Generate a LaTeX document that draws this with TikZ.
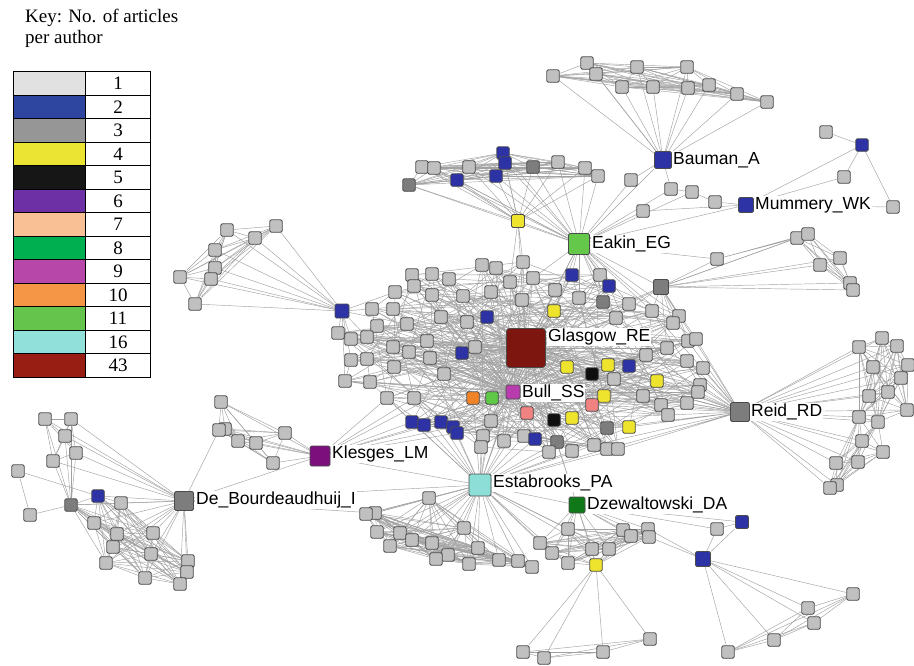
\documentclass[tikz,border=0pt]{standalone}
\usepackage{fontspec}
\newfontfamily\labfont{Liberation Sans}
\newfontfamily\keyfont{Liberation Serif}
\pgfdeclarelayer{bg}
\pgfsetlayers{bg,main}
\definecolor{cg}{RGB}{192,192,192}
\definecolor{cd}{RGB}{125,125,125}
\definecolor{cb}{RGB}{45,50,165}
\definecolor{cy}{RGB}{238,228,45}
\definecolor{ck}{RGB}{15,15,15}
\definecolor{cp}{RGB}{240,130,130}
\definecolor{cor}{RGB}{240,130,40}
\definecolor{cgr}{RGB}{95,200,70}
\definecolor{cred}{RGB}{125,22,15}
\definecolor{cmag}{RGB}{185,60,175}
\definecolor{clg}{RGB}{100,200,75}
\definecolor{cpur}{RGB}{125,15,125}
\definecolor{ccy}{RGB}{140,222,214}
\definecolor{cdg}{RGB}{15,120,25}
\definecolor{cedge}{RGB}{162,162,162}
\definecolor{cline}{RGB}{75,75,75}
\definecolor{k1}{RGB}{225,225,225}
\definecolor{k2}{RGB}{46,70,160}
\definecolor{k3}{RGB}{150,150,150}
\definecolor{k4}{RGB}{236,228,50}
\definecolor{k5}{RGB}{22,22,22}
\definecolor{k6}{RGB}{110,48,165}
\definecolor{k7}{RGB}{248,192,148}
\definecolor{k8}{RGB}{0,176,80}
\definecolor{k9}{RGB}{183,72,170}
\definecolor{k10}{RGB}{245,150,70}
\definecolor{k11}{RGB}{100,196,76}
\definecolor{k16}{RGB}{145,225,218}
\definecolor{k43}{RGB}{152,30,20}
\newcommand\mkstar[4]{\foreach \i in {#3,...,#4}{\draw[ed] (#1)--(#2\i);}}
\newcommand\mkclique[3]{\pgfmathtruncatemacro\cqlast{#3-1}\foreach \i in {#2,...,\cqlast}{\pgfmathtruncatemacro\cqnext{\i+1}\foreach \j in {\cqnext,...,#3}{\draw[ed] (#1\i)--(#1\j);}}}
\tikzset{
  nd/.style={draw=cline, line width=0.9pt, rounded corners=1.5pt, minimum size=12.5pt, inner sep=0pt},
  ed/.style={draw=cedge, line width=0.45pt},
  lab/.style={font=\labfont\fontsize{17.5}{21}\selectfont, fill=white, inner sep=1pt, anchor=west},
  keycell/.style={draw=black, line width=1pt, minimum width=72pt, minimum height=23.54pt, anchor=north west, inner sep=0pt},
  keynum/.style={draw=black, line width=1pt, minimum width=65pt, minimum height=23.54pt, anchor=north west, inner sep=0pt, font=\keyfont\fontsize{19}{21}\selectfont},
}
\begin{document}
\begin{tikzpicture}[x=1pt,y=-1pt]
\useasboundingbox (0,0) rectangle (914,665);
% key
\node[anchor=base west, inner sep=0pt, font=\keyfont\fontsize{19}{21}\selectfont] (key1) at (25,22) {Key: No. of articles};
\node[anchor=base west, inner sep=0pt, font=\keyfont\fontsize{19}{21}\selectfont] (key2) at (25,43) {per author};
\foreach \r/\c/\t in {0/k1/1,1/k2/2,2/k3/3,3/k4/4,4/k5/5,5/k6/6,6/k7/7,7/k8/8,8/k9/9,9/k10/10,10/k11/11,11/k16/16,12/k43/43}{
  \pgfmathsetmacro\yt{71+\r*23.54}
  \node[keycell, fill=\c] (kc\r) at (13,\yt) {};
  \node[keynum] (kn\r) at (85,\yt) {\t};
}
% labels
\node[lab] (LG) at (547,337) {Glasgow\_RE};
\node[lab] (LS) at (521,393) {Bull\_SS};
\node[lab] (LEa) at (591,244) {Eakin\_EG};
\node[lab] (LBa) at (672,160) {Bauman\_A};
\node[lab] (LMu) at (754,205) {Mummery\_WK};
\node[lab] (LRe) at (750,412) {Reid\_RD};
\node[lab] (LKl) at (331,454) {Klesges\_LM};
\node[lab] (LDe) at (195,500) {De\_Bourdeaudhuij\_I};
\node[lab] (LEs) at (492,483) {Estabrooks\_PA};
\node[lab] (LDz) at (586,505) {Dzewaltowski\_DA};
% hubs
\node[nd, fill=cred, minimum size=39pt, rounded corners=3pt] (G) at (526,348) {};
\node[nd, fill=cmag, minimum size=14pt] (S) at (513,392) {};
\node[nd, fill=clg, minimum size=21pt] (Ea) at (579,244) {};
\node[nd, fill=cb, minimum size=17pt] (Ba) at (663,160) {};
\node[nd, fill=cb, minimum size=15pt] (Mu) at (746,205) {};
\node[nd, fill=cd, minimum size=19pt] (Re) at (740,412) {};
\node[nd, fill=cpur, minimum size=20pt] (Kl) at (320,456) {};
\node[nd, fill=cd, minimum size=19pt] (De) at (184,501) {};
\node[nd, fill=ccy, minimum size=22pt] (Es) at (480,485) {};
\node[nd, fill=cdg, minimum size=16pt] (Dz) at (577,505) {};
\node[nd, fill=cd, minimum size=15pt] (d1) at (661,287) {};
\node[nd, fill=cb, minimum size=14pt] (ub) at (342,311) {};
\node[nd, fill=cy, minimum size=13pt] (y1) at (518,221) {};
\node[nd, fill=cb, minimum size=15pt] (p2) at (703,559) {};
\node[nd, fill=cb, minimum size=13pt] (p1) at (742,522) {};
\node[nd, fill=cg] (t0) at (717,529) {};
\node[nd, fill=cg] (m6) at (717,259) {};
% clusters
\foreach \n/\f/\x/\y in {b1/cg/553/76,b2/cg/587/63,b3/cg/596/74,b4/cg/622/87,b5/cg/637/67,b6/cg/653/87,b7/cg/687/67,b8/cg/688/88,b9/cg/709/85,b10/cg/737/94,b11/cg/767/102,
 e1/cg/422/167,e2/cg/434/168,e3/cg/469/167,e4/cb/503/153,e5/cb/505/163,e6/cb/457/180,e7/cb/496/176,e8/cd/533/167,e9/cd/409/185,e10/cg/558/162,e11/cg/585/168,e12/cg/598/176,
 m1/cg/631/180,m2/cg/671/189,m3/cg/692/192,m4/cg/715/202,m5/cg/643/211,
 n1/cg/826/132,n2/cb/862/145,n3/cg/844/177,n4/cg/893/207,
 r1/cg/797/238,r2/cg/808/234,r3/cg/840/258,r4/cg/820/265,r5/cg/850/283,r6/cg/853/290,
 u1/cg/227/230,u2/cg/255/238,u3/cg/276/226,u4/cg/215/250,u5/cg/215/268,u6/cg/211/279,u7/cg/180/277,u8/cg/195/304,
 k1/cg/221/402,k2/cg/225/429,k3/cg/219/430,k4/cg/238/441,k5/cg/256/443,k6/cg/285/433,k7/cg/273/463,
 z1/cg/523/652,z2/cg/544/658,z3/cg/603/652,z4/cg/650/639,
 t1/cg/853/594,t2/cg/808/608,t3/cg/814/623,t4/cg/774/640,t5/cg/728/652}
 {\node[nd, fill=\f] (\n) at (\x,\y) {};}
\foreach \n/\f/\x/\y in {l1/cg/45/419,l2/cg/71/419,l3/cg/65/436,l4/cg/76/453,l5/cg/53/461,l6/cg/18/471,l7/cb/98/496,l8/cd/71/505,l9/cg/30/515,l10/cg/121/503,l11/cg/94/523,l12/cg/117/534,l13/cg/153/533,l14/cg/113/547,l15/cg/151/554,l16/cg/106/563,l17/cg/188/561,l18/cg/187/572,l19/cg/145/578,l20/cg/180/584,
 q1/cg/859/347,q2/cg/882/338,q3/cg/897/346,q4/cg/908/365,q5/cg/873/367,q6/cg/901/378,q7/cg/888/392,q8/cg/869/396,q9/cg/907/410,q10/cg/859/417,q11/cg/878/422,q12/cg/862/441,q13/cg/883/452,q14/cg/858/462,q15/cg/836/463,q16/cg/837/485,q17/cg/830/488,
 s1/cg/429/498,s2/cg/375/513,s3/cg/366/514,s4/cg/377/532,s5/cg/400/533,s6/cg/412/540,s7/cg/390/546,s8/cg/432/543,s9/cg/448/555,s10/cg/436/559,s11/cg/464/528,s12/cg/478/548,s13/cg/469/564,s14/cg/499/560,s15/cg/518/561,s16/cg/532/567,s17/cg/540/543,s18/cg/552/553,s19/cg/568/529,s20/cg/568/563,s21/cg/592/549,s22/cg/609/549,s23/cy/596/565,s24/cg/623/530,s25/cg/631/536,s26/cg/648/529,s27/cg/649/537}
 {\node[nd, fill=\f] (\n) at (\x,\y) {};}
\foreach \n/\f/\x/\y in {c1/cg/412/275,c2/cg/432/274,c3/cg/449/279,c4/cg/482/265,c5/cg/496/268,c6/cg/523/262,c7/cg/414/286,c8/cg/395/292,c9/cg/432/295,c10/cg/463/296,c11/cg/491/292,c12/cg/510/282,c13/cg/372/309,c14/cg/393/309,c15/cg/407/324,c16/cg/441/317,c17/cg/467/322,c18/cb/487/317,c19/cg/522/300,c20/cg/338/333,c21/cg/351/339,c22/cg/377/326,c23/cg/367/337,c24/cg/393/347,c25/cg/409/352,c26/cg/427/341,c27/cb/462/353,c28/cg/475/347,c29/cg/351/360,c30/cg/367/359,c31/cg/394/367,c32/cg/430/358,c33/cg/444/374,c34/cg/345/381,c35/cg/370/382,c36/cg/387/398,c37/cg/414/398,c38/cor/473/398,c39/cgr/492/398,c40/cb/412/422,c41/cb/424/425,c42/cb/441/422,c43/cb/453/427,c44/cb/457/433,c45/cg/491/421,c46/cg/483/436,c47/cg/504/441,c48/cg/481/447,c49/cp/527/413,c50/cg/533/278,c51/cg/555/290,c52/cg/579/298,c53/cb/572/275,c54/cg/600/275,c55/cb/609/286,c56/cd/603/302,c57/cg/629/304,c58/cg/652/311,c59/cg/616/318,c60/cg/679/316,c61/cg/673/323,c62/cy/554/311,c63/cg/646/355,c64/cg/667/348,c65/cg/688/341,c66/cg/696/339,c67/cg/687/361,c68/cg/703/368,c69/cy/567/367,c70/ck/592/374,c71/cy/608/365,c72/cb/629/366,c73/cg/614/379,c74/cy/657/381,c75/cg/643/396,c76/cy/604/396,c77/cp/592/405,c78/cg/661/405,c79/cg/668/415,c80/cg/687/403,c81/cg/700/385,c82/cg/698/392,c83/ck/554/420,c84/cy/572/418,c85/cd/607/428,c86/cy/629/427,c87/cg/524/436,c88/cb/535/439,c89/cd/557/442,c90/cg/549/452,c91/cg/572/451,c92/cg/594/445,c93/cg/607/449,c94/cg/618/449}
 {\node[nd, fill=\f] (\n) at (\x,\y) {};}
% edges
\begin{pgfonlayer}{bg}
\fill[white] (0,0) rectangle (914,665);
\mkstar{Ba}{b}{1}{11}
\mkclique{b}{1}{11}
\draw[ed] (Ba)--(Ea) (Ba)--(m2) (Ba)--(m1) (m2)--(m3) (m3)--(m4) (m4)--(Mu) (m1)--(Ea) (m5)--(Ea) (m5)--(Mu) (Ea)--(Mu) (Ea)--(m2) (Ea)--(m3);
\draw[ed] (n1)--(n2) (n2)--(n3) (n2)--(n4) (n2)--(Mu) (n3)--(Mu) (Mu)--(n4);
\mkstar{y1}{e}{1}{12}
\mkstar{Ea}{e}{1}{12}
\mkclique{e}{1}{12}
\draw[ed] (y1)--(Ea) (y1)--(c6) (y1)--(G) (y1)--(c12);
\mkstar{d1}{r}{1}{6}
\mkclique{r}{1}{6}
\draw[ed] (m6)--(r1) (m6)--(r2) (Ea)--(m6) (m6)--(d1) (Ea)--(d1) (G)--(d1) (Ea)--(G);
\foreach \i in {50,...,62} {\draw[ed] (Ea)--(c\i);}
\foreach \i in {57,58,59,60,61,64,65,66} {\draw[ed] (d1)--(c\i);}
\mkstar{G}{c}{1}{94}
\mkstar{S}{c}{1}{94}
\foreach \i in {1,...,94}{
  \pgfmathtruncatemacro\shA{mod(\i+4,94)+1}
  \pgfmathtruncatemacro\shB{mod(\i+22,94)+1}
  \pgfmathtruncatemacro\shC{mod(\i+51,94)+1}
  \draw[ed] (c\i)--(c\shA) (c\i)--(c\shB) (c\i)--(c\shC);
}
\draw[ed] (G)--(S);
\mkstar{ub}{u}{1}{8}
\mkclique{u}{1}{8}
\draw[ed] (ub)--(G) (ub)--(c20) (ub)--(c21) (ub)--(c13) (ub)--(c23) (ub)--(c29) (ub)--(c34) (ub)--(c8);
\mkstar{Re}{q}{1}{17}
\mkclique{q}{1}{11}
\mkclique{q}{10}{17}
\foreach \i in {63,...,82} {\draw[ed] (Re)--(c\i);}
\draw[ed] (Re)--(c85) (Re)--(c86) (Re)--(c92) (Re)--(c93) (Re)--(c94) (Re)--(d1) (Re)--(c58);
\mkstar{Kl}{k}{1}{7}
\mkclique{k}{1}{7}
\foreach \i in {40,...,44} {\draw[ed] (Kl)--(c\i);}
\draw[ed] (Kl)--(G) (Kl)--(Es) (De)--(k3) (De)--(Kl) (Kl)--(c36) (Kl)--(c37);
\foreach \i in {1,2,3,4,5,7,8,10,11,12,13,14,15,16,17,18,19,20} {\draw[ed] (De)--(l\i);}
\mkclique{l}{1}{5}
\mkclique{l}{10}{20}
\foreach \i in {10,...,20} {\draw[ed] (l8)--(l\i) (l7)--(l\i);}
\foreach \i in {1,...,5} {\draw[ed] (l8)--(l\i);}
\draw[ed] (l6)--(l9) (l6)--(l7) (l9)--(l8) (l7)--(l8);
\draw[ed] (De)--(Es) (De)--(s2);
\mkstar{Es}{s}{1}{22}
\mkclique{s}{1}{16}
\mkclique{s}{17}{27}
\mkstar{Dz}{s}{17}{27}
\foreach \i in {36,...,49} {\draw[ed] (Es)--(c\i);}
\foreach \i in {87,...,94} {\draw[ed] (Es)--(c\i);}
\draw[ed] (Es)--(G) (Es)--(S) (Es)--(Dz);
\mkstar{s23}{z}{1}{4}
\mkclique{z}{1}{4}
\draw[ed] (Dz)--(p1) (Dz)--(t0) (t0)--(p1) (t0)--(p2) (p1)--(p2) (s27)--(p2) (s26)--(p2) (Dz)--(G) (Dz)--(c89);
\mkstar{p2}{t}{1}{5}
\mkclique{t}{1}{5}
\end{pgfonlayer}
\end{tikzpicture}
\end{document}
